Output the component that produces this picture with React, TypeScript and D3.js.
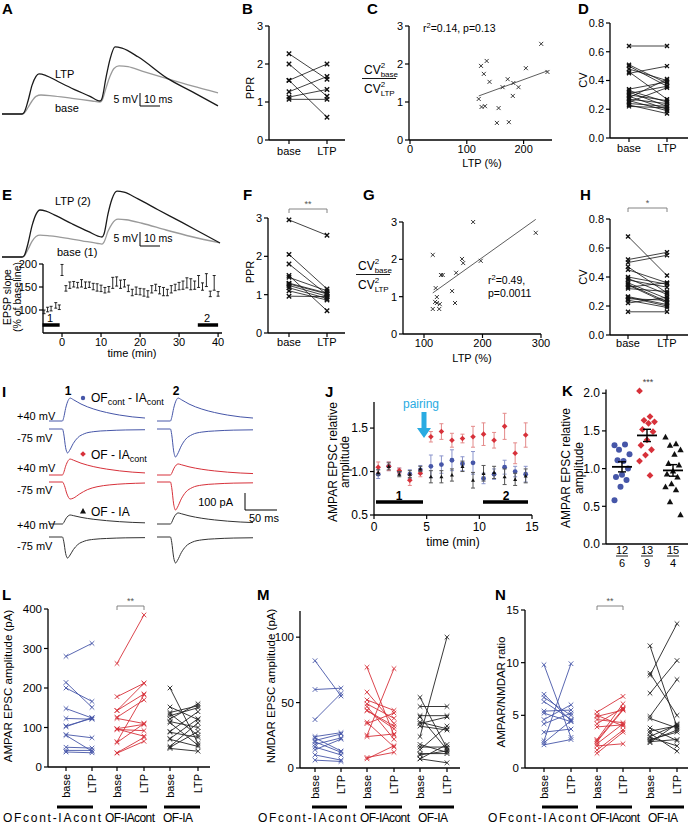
import React from 'react';
import * as d3 from 'd3';

// ================= DATA =================
const pairCats = ['base', 'LTP'];

// A: paired-pulse EPSP traces (ms, mV)
const traceA_LTP: [number, number][] = [[0,0],[10,0],[11,0.5],[13,5],[15,11],[17,14.5],[18.5,15.4],[22,14.8],[28,12.5],[36,9.5],[44,6.8],[49,5],[50,6],[52,14],[54,21],[56.5,25.8],[60,25.3],[68,22],[82.5,13.8],[95,8.6],[108,3.1]];
const traceA_base: [number, number][] = [[0,0],[10,0],[11,0.3],[13,2.5],[15,5],[17,6.8],[19.5,7.3],[25,7],[35,6],[45,5],[49,4.6],[50,5.2],[52,10],[54,14.5],[56,17.5],[58.5,18.5],[63,18.2],[70,16.5],[82.5,13.6],[95,10.8],[108,8.1]];
// B
const bBase = [2.27, 2.0, 1.57, 1.57, 1.27, 1.13, 1.07];
const bLTP = [1.6, 1.15, 2.0, 0.6, 1.67, 1.33, 1.07];
// C
const cX = [231,125,135,130,204,242,140,172,163,182,191,181,121,126,132,156,153,174];
const cY = [2.53,1.95,2.08,1.74,1.89,1.79,1.53,1.60,1.39,1.50,1.39,1.16,1.08,0.87,0.89,0.84,0.45,0.47];
const cFit = { x0: 121, x1: 242, intercept: 0.50, slope: 0.00545 };
// D
const dBase = [0.64,0.51,0.50,0.45,0.48,0.46,0.34,0.33,0.32,0.31,0.30,0.29,0.28,0.27,0.26,0.25,0.24,0.23,0.22];
const dLTP  = [0.64,0.38,0.36,0.50,0.40,0.27,0.39,0.25,0.22,0.36,0.26,0.20,0.41,0.24,0.19,0.35,0.22,0.17,0.21];
// E traces
const traceE_LTP: [number, number][] = [[0,0],[10,0],[11,0.4],[13,5],[15,11.5],[17,15.8],[19,17.4],[22,17],[27,15.3],[35,12.3],[43,9.5],[50,7.4],[51,8.5],[53,16],[55,21.5],[57.5,24.4],[61,24],[68,21.5],[78,17.5],[90,12.8],[100,8.8],[109,5.2]];
const traceE_base: [number, number][] = [[0,0],[10,0],[11,0.3],[13,2.8],[15,5.8],[17,7.6],[19,8.1],[24,7.8],[32,7],[40,6],[48,5],[50,4.8],[51,5.5],[53,9.5],[55,12.3],[58,14],[62,13.8],[70,12.5],[82,10],[95,7.5],[109,5.2]];
// E time course
const eTime = [-4.6,-3.7,-2.8,-1.6,-0.7,0,1,2,3,4,5,6,7,8,9,10,11,12,13,14,15,16,17,18,19,20,21,22,23,24,25,26,27,28,29,30,31,32,33,34,35,36,37,38,39,40];
const eMean = [96,101,103,110,106,187,147,154,156,154,158,154,155,151,149,147,143,145,159,162,156,158,147,138,142,140,138,135,145,149,143,140,138,145,149,152,154,159,156,154,162,151,165,135,159,135];
const eErr = [4,5,5,6,5,12,6,7,6,6,8,7,6,7,8,7,6,6,12,10,9,8,7,7,8,7,8,7,8,7,8,9,7,8,7,8,9,11,12,9,13,8,14,6,16,5];
const eTicksX = [0,10,20,30,40];
const eTicksY = [100,150,200];
// F
const fBase = [2.95,2.05,1.8,1.5,1.45,1.3,1.24,1.18,1.1,0.96,1.28];
const fLTP  = [2.55,1.15,1.0,0.58,1.1,1.04,0.96,0.9,0.86,0.95,1.02];
// G
const gX = [115,132,129,155,120,148,122,119,122,127,115,126,153,184,165,167,197,291];
const gY = [2.12,1.58,1.58,1.64,1.23,1.15,0.99,0.86,0.83,0.80,0.67,0.67,0.83,3.0,2.01,1.90,1.96,2.71];
const gFit = { x0: 115, x1: 291, y0: 1.10, y1: 3.07 };
// H
const hBase = [0.68,0.52,0.50,0.47,0.45,0.40,0.38,0.36,0.345,0.33,0.32,0.26,0.25,0.24,0.22,0.265,0.16,0.35,0.39];
const hLTP  = [0.41,0.57,0.55,0.29,0.36,0.35,0.33,0.25,0.22,0.36,0.30,0.20,0.24,0.19,0.26,0.21,0.16,0.23,0.28];
// I: EPSC templates (ms, normalised) and peak amplitudes (pA) [set1, set2]
const epscUp: [number, number][] = [[0,0],[21,0],[23,0.15],[26,0.55],[30,0.9],[33,1],[38,0.93],[50,0.74],[70,0.52],[90,0.37],[110,0.26],[130,0.18],[150,0.13]];
const epscDownFast: [number, number][] = [[0,0],[21,0],[23,0.2],[26,0.78],[29,1],[32,0.9],[38,0.6],[45,0.36],[55,0.2],[70,0.11],[90,0.07],[120,0.04],[150,0.03]];
const epscDownSlow: [number, number][] = [[0,0],[21,0],[24,0.2],[28,0.7],[33,1],[38,0.95],[48,0.7],[60,0.45],[75,0.28],[95,0.17],[120,0.1],[150,0.06]];
const iBluePos = [135, 135];
const iBlueNeg = [-141, -165];
const iRedPos = [94, 65];
const iRedNeg = [-100, -165];
const iBlackPos = [53, 65];
const iBlackNeg = [-124, -153];
// J
const jTime = [0.4,1.4,2.4,3.4,4.4,5.4,6.4,7.4,8.4,9.4,10.4,11.4,12.4,13.4,14.4];
const jRed = [1.05,1.06,1.01,0.90,0.98,1.40,1.46,1.36,1.38,1.40,1.43,1.36,1.52,1.21,1.42];
const jRedErr = [0.06,0.05,0.03,0.06,0.04,0.06,0.09,0.08,0.05,0.12,0.13,0.09,0.15,0.12,0.14];
const jBlue = [0.97,1.06,1.00,0.97,1.02,1.06,1.08,1.13,1.09,1.10,0.92,0.97,1.05,1.00,0.97];
const jBlueErr = [0.05,0.05,0.04,0.05,0.05,0.13,0.10,0.12,0.08,0.13,0.06,0.06,0.08,0.06,0.09];
const jBlack = [0.99,1.06,0.97,0.97,1.03,0.94,0.94,0.96,1.06,0.90,0.98,0.99,0.94,0.91,0.95];
const jBlackErr = [0.03,0.04,0.03,0.04,0.03,0.07,0.07,0.07,0.06,0.09,0.09,0.07,0.09,0.07,0.08];
const jTicksX = [0,5,10,15];
const jTicksY = [0.5,1.0,1.5];
// K
const kBlue = [1.31,1.32,1.25,1.19,1.10,1.11,1.0,0.92,0.89,0.85,0.76,0.58];
const kRed = [2.03,1.69,1.64,1.62,1.60,1.52,1.49,1.38,1.31,1.25,1.18,1.10,0.91];
const kBlack = [1.42,1.33,1.31,1.25,1.19,1.07,1.05,0.97,0.93,0.89,0.80,0.76,0.72,0.56,0.39];
const kN = [['12','6'],['13','9'],['15','4']];
// L
const lBlueBase = [280,214,200,148,123,104,102,82,80,50,42,38];
const lBlueLTP  = [313,151,166,124,121,123,125,74,40,48,42,36];
const lRedBase = [262,178,143,126,123,97,95,64,62,36,35,143,96];
const lRedLTP  = [385,212,185,170,110,108,92,183,110,75,65,212,78];
const lBlackBase = [200,152,138,135,130,122,115,112,90,88,72,70,52,50,47];
const lBlackLTP  = [60,120,155,80,150,160,100,55,140,75,122,52,112,90,40];
// M
const mBlueBase = [82,60,37,24,23,21,20,18,16,14,10,6];
const mBlueLTP  = [55,61,57,27,13,26,12,23,10,22,6,5];
const mRedBase = [77,58,52,49,47,44,25,34,35,24,8,7,44];
const mRedLTP  = [25,34,44,38,22,32,76,42,16,26,12,17,30];
const mBlackBase = [24,54,47,40,39,35,34,32,18,16,14,11,10,7,7];
const mBlackLTP  = [100,15,47,40,14,30,39,29,12,16,32,11,13,18,4];
// N
const nBlueBase = [9.8,7.0,6.7,6.3,5.4,5.2,4.6,4.2,3.4,2.6,2.4,2.2];
const nBlueLTP  = [2.9,4.5,5.0,4.6,5.5,4.4,6.0,5.2,3.7,9.9,4.5,2.7];
const nRedBase = [5.3,4.9,4.6,4.2,3.9,2.7,2.5,2.3,1.7,1.4,5.0,2.1,2.6];
const nRedLTP  = [6.8,5.5,4.3,5.7,4.1,6.1,5.5,4.2,3.6,3.4,4.0,2.3,5.6];
const nBlackBase = [11.6,9.0,8.8,7.1,4.9,4.7,3.8,3.5,3.3,3.0,2.9,2.6,2.5,2.4,2.7];
const nBlackLTP  = [3.9,5.0,13.7,10.2,8.4,3.8,2.6,4.0,1.6,4.1,2.1,3.6,2.7,4.2,3.4];
const groupNames = ['OFcont-IAcont', 'OF-IAcont', 'OF-IA'];

// ================= STYLE =================
const FONT = "'Liberation Sans', Arial, Helvetica, sans-serif";
const BLUE = '#4656a8';
const RED = '#d7313a';
const BLK = '#222';
const CYAN = '#29abe2';

// ================= HELPERS =================
const cross = (x: number, y: number, s: number) => `M${x - s},${y - s}L${x + s},${y + s}M${x - s},${y + s}L${x + s},${y - s}`;
const diamond = (x: number, y: number, s: number) => `M${x},${y - s}L${x + s},${y}L${x},${y + s}L${x - s},${y}Z`;
const tri = (x: number, y: number, s: number) => `M${x},${y - s}L${x + s},${y + s * 0.8}L${x - s},${y + s * 0.8}Z`;

function YAxis({ x, sc, ticks, fmt = (v: number) => String(v), fs = 11 }: any) {
  const [b, t] = sc.range();
  return (
    <g>
      <line x1={x} x2={x} y1={b} y2={t} stroke="#000" strokeWidth={1.3} />
      {ticks.map((v: number) => (
        <g key={v}>
          <line x1={x - 4} x2={x} y1={sc(v)} y2={sc(v)} stroke="#000" strokeWidth={1.2} />
          <text x={x - 6} y={sc(v)} dy="0.35em" textAnchor="end" fontSize={fs}>{fmt(v)}</text>
        </g>
      ))}
    </g>
  );
}

function XAxis({ y, x0, x1, ticks, labels, ly, fs = 11 }: any) {
  return (
    <g>
      <line x1={x0} x2={x1} y1={y} y2={y} stroke="#000" strokeWidth={1.3} />
      {ticks.map((tx: number, i: number) => (
        <g key={i}>
          <line x1={tx} x2={tx} y1={y} y2={y + 4} stroke="#000" strokeWidth={1.2} />
          {labels && <text x={tx} y={ly} textAnchor="middle" fontSize={fs}>{labels[i]}</text>}
        </g>
      ))}
    </g>
  );
}

function RotText({ x, y, children, fs = 11, fill = '#000' }: any) {
  return (
    <text transform={`translate(${x},${y}) rotate(-90)`} textAnchor="middle" dy="0.35em" fontSize={fs} fill={fill}>{children}</text>
  );
}

function PanelLabel({ x, y, t }: any) {
  return <text x={x} y={y} fontSize={15} fontWeight="bold">{t}</text>;
}

function Paired({ xb, xl, sc, base, ltp, color, size = 2.2, mw = 1.4, lw = 0.8 }: any) {
  return (
    <g>
      {base.map((b: number, i: number) => (
        <line key={'l' + i} x1={xb} y1={sc(b)} x2={xl} y2={sc(ltp[i])} stroke={color} strokeWidth={lw} />
      ))}
      {base.map((b: number, i: number) => (
        <path key={'b' + i} d={cross(xb, sc(b), size)} stroke={color} strokeWidth={mw} fill="none" />
      ))}
      {ltp.map((v: number, i: number) => (
        <path key={'p' + i} d={cross(xl, sc(v), size)} stroke={color} strokeWidth={mw} fill="none" />
      ))}
    </g>
  );
}

function Bracket({ x0, x1, y, t }: any) {
  return (
    <g stroke="#777" strokeWidth={0.9} fill="none">
      <path d={`M${x0},${y + 4}V${y}H${x1}V${y + 4}`} />
      <text x={(x0 + x1) / 2} y={y - 2} textAnchor="middle" fontSize={9} fill="#555" stroke="none">{t}</text>
    </g>
  );
}

function CVFrac({ x, y }: any) {
  // y = baseline of numerator "CV"
  return (
    <g>
      <text x={x} y={y} fontSize={12}>CV<tspan fontSize={8} dy={-6}>2</tspan><tspan fontSize={8} dx={-4.5} dy={8.5}>base</tspan></text>
      <line x1={x - 2} x2={x + 32} y1={y + 4.5} y2={y + 4.5} stroke="#000" strokeWidth={0.9} />
      <text x={x} y={y + 19} fontSize={12}>CV<tspan fontSize={8} dy={-6}>2</tspan><tspan fontSize={8} dx={-4.5} dy={8.5}>LTP</tspan></text>
    </g>
  );
}

function Trace({ data, sx, sy, color, w = 1.3 }: any) {
  const line = d3.line<[number, number]>().x(d => sx(d[0])).y(d => sy(d[1])).curve(d3.curveMonotoneX);
  return <path d={line(data) || ''} fill="none" stroke={color} strokeWidth={w} />;
}

// ================= PANELS =================
function PanelA() {
  const sx = d3.scaleLinear().domain([0, 10]).range([2, 22]);
  const sy = d3.scaleLinear().domain([0, 5]).range([114, 101]);
  return (
    <g>
      <PanelLabel x={2} y={14} t="A" />
      <Trace data={traceA_base} sx={sx} sy={sy} color="#9a9a9a" />
      <Trace data={traceA_LTP} sx={sx} sy={sy} color="#1a1a1a" />
      <text x={55} y={78} fontSize={11}>LTP</text>
      <text x={55} y={112} fontSize={11}>base</text>
      <text x={138} y={103} textAnchor="end" fontSize={10.5}>5 mV</text>
      <text x={144} y={103} fontSize={10.5}>10 ms</text>
      <path d={`M140,93V106H160`} stroke="#000" strokeWidth={1} fill="none" />
    </g>
  );
}

function PanelB() {
  const y = d3.scaleLinear().domain([0, 3]).range([140, 26]);
  const x = d3.scalePoint<string>().domain(pairCats).range([289, 327]);
  return (
    <g>
      <PanelLabel x={242} y={14} t="B" />
      <YAxis x={269} sc={y} ticks={[0, 1, 2, 3]} />
      <XAxis y={140} x0={269} x1={345} ticks={pairCats.map(c => x(c))} labels={pairCats} ly={155} />
      <RotText x={250} y={88}>PPR</RotText>
      <Paired xb={x('base')} xl={x('LTP')} sc={y} base={bBase} ltp={bLTP} color="#111" />
    </g>
  );
}

function PanelC() {
  const y = d3.scaleLinear().domain([0, 3]).range([140, 26]);
  const x = d3.scaleLinear().domain([0, 250]).range([410, 552]);
  return (
    <g>
      <PanelLabel x={367} y={14} t="C" />
      <YAxis x={409} sc={y} ticks={[0, 1, 2, 3]} />
      <XAxis y={140} x0={409} x1={552} ticks={[0, 100, 200].map(v => x(v))} labels={['0', '100', '200']} ly={153} />
      <text x={482} y={167} textAnchor="middle" fontSize={11}>LTP (%)</text>
      <CVFrac x={364} y={74} />
      <text x={423} y={32} fontSize={10.5}>r<tspan fontSize={7.5} dy={-4}>2</tspan><tspan dy={4}>=0.14, p=0.13</tspan></text>
      <line x1={x(cFit.x0)} x2={x(cFit.x1)} y1={y(cFit.intercept + cFit.slope * cFit.x0)} y2={y(cFit.intercept + cFit.slope * cFit.x1)} stroke="#333" strokeWidth={0.8} />
      {cX.map((v, i) => <path key={i} d={cross(x(v), y(cY[i]), 2)} stroke="#222" strokeWidth={0.9} fill="none" />)}
    </g>
  );
}

function PanelD() {
  const y = d3.scaleLinear().domain([0, 0.8]).range([138, 23]);
  const x = d3.scalePoint<string>().domain(pairCats).range([629, 667]);
  return (
    <g>
      <PanelLabel x={578} y={14} t="D" />
      <YAxis x={610} sc={y} ticks={[0, 0.2, 0.4, 0.6, 0.8]} fmt={(v: number) => v.toFixed(1)} />
      <XAxis y={138} x0={610} x1={688} ticks={pairCats.map(c => x(c))} labels={pairCats} ly={152} />
      <RotText x={583} y={80}>CV</RotText>
      <Paired xb={x('base')} xl={x('LTP')} sc={y} base={dBase} ltp={dLTP} color="#111" size={2} />
    </g>
  );
}

function PanelE() {
  const sx = d3.scaleLinear().domain([0, 10]).range([2, 22]);
  const sy = d3.scaleLinear().domain([0, 5]).range([257, 243.5]);
  const tx = d3.scaleLinear().domain([-5, 41]).range([42.5, 222]);
  const ty = d3.scaleLinear().domain([50, 200]).range([333, 264]);
  return (
    <g>
      <PanelLabel x={2} y={200} t="E" />
      <Trace data={traceE_base} sx={sx} sy={sy} color="#9a9a9a" />
      <Trace data={traceE_LTP} sx={sx} sy={sy} color="#1a1a1a" />
      <text x={55} y={205} fontSize={11}>LTP (2)</text>
      <text x={57} y={256} fontSize={11}>base (1)</text>
      <text x={138} y={242} textAnchor="end" fontSize={10.5}>5 mV</text>
      <text x={144} y={242} fontSize={10.5}>10 ms</text>
      <path d={`M140,232V246H160`} stroke="#000" strokeWidth={1} fill="none" />
      {/* time course */}
      <YAxis x={43} sc={ty} ticks={eTicksY} />
      <XAxis y={333} x0={43} x1={222} ticks={eTicksX.map(v => tx(v))} labels={eTicksX.map(String)} ly={346} />
      <text x={132} y={357} textAnchor="middle" fontSize={11}>time (min)</text>
      <RotText x={7} y={297} fs={10.5}>EPSP slope</RotText>
      <RotText x={17} y={297} fs={10.5}>(% of baseline)</RotText>
      {eTime.map((t, i) => {
        const cx = tx(t);
        const y0 = ty(eMean[i] - eErr[i]);
        const y1 = ty(eMean[i] + eErr[i]);
        return (
          <g key={i} stroke="#111" strokeWidth={0.9}>
            <line x1={cx} x2={cx} y1={y0} y2={y1} />
            <line x1={cx - 1.5} x2={cx + 1.5} y1={y0} y2={y0} />
            <line x1={cx - 1.5} x2={cx + 1.5} y1={y1} y2={y1} />
          </g>
        );
      })}
      <line x1={tx(-5)} x2={tx(-0.6)} y1={325} y2={325} stroke="#000" strokeWidth={3.5} />
      <text x={50} y={322} textAnchor="middle" fontSize={11}>1</text>
      <line x1={tx(34.8)} x2={tx(40)} y1={325} y2={325} stroke="#000" strokeWidth={3.5} />
      <text x={207} y={322} textAnchor="middle" fontSize={11}>2</text>
    </g>
  );
}

function PanelF() {
  const y = d3.scaleLinear().domain([0, 3]).range([333, 218]);
  const x = d3.scalePoint<string>().domain(pairCats).range([289, 327]);
  return (
    <g>
      <PanelLabel x={243} y={200} t="F" />
      <YAxis x={268} sc={y} ticks={[0, 1, 2, 3]} />
      <XAxis y={333} x0={268} x1={345} ticks={pairCats.map(c => x(c))} labels={pairCats} ly={346} />
      <RotText x={250} y={272}>PPR</RotText>
      <Bracket x0={x('base')} x1={x('LTP')} y={209} t="**" />
      <Paired xb={x('base')} xl={x('LTP')} sc={y} base={fBase} ltp={fLTP} color="#111" />
    </g>
  );
}

function PanelG() {
  const y = d3.scaleLinear().domain([0, 3]).range([334, 222]);
  const x = d3.scaleLinear().domain([100, 300]).range([424, 541]);
  return (
    <g>
      <PanelLabel x={363} y={200} t="G" />
      <YAxis x={403} sc={y} ticks={[0, 1, 2, 3]} />
      <XAxis y={334} x0={403} x1={541} ticks={[100, 200, 300].map(v => x(v))} labels={['100', '200', '300']} ly={347} />
      <text x={472} y={362} textAnchor="middle" fontSize={11}>LTP (%)</text>
      <CVFrac x={358} y={270} />
      <line x1={x(gFit.x0)} x2={x(gFit.x1)} y1={y(gFit.y0)} y2={y(gFit.y1)} stroke="#333" strokeWidth={0.8} />
      {gX.map((v, i) => <path key={i} d={cross(x(v), y(gY[i]), 2)} stroke="#222" strokeWidth={0.9} fill="none" />)}
      <text x={488} y={284} fontSize={10.5}>r<tspan fontSize={7.5} dy={-4}>2</tspan><tspan dy={4}>=0.49,</tspan></text>
      <text x={488} y={297} fontSize={10.5}>p=0.0011</text>
    </g>
  );
}

function PanelH() {
  const y = d3.scaleLinear().domain([0, 0.8]).range([335, 219]);
  const x = d3.scalePoint<string>().domain(pairCats).range([628, 667]);
  return (
    <g>
      <PanelLabel x={580} y={200} t="H" />
      <YAxis x={610} sc={y} ticks={[0, 0.2, 0.4, 0.6, 0.8]} fmt={(v: number) => v.toFixed(1)} />
      <XAxis y={335} x0={610} x1={688} ticks={pairCats.map(c => x(c))} labels={pairCats} ly={347} />
      <RotText x={583} y={277}>CV</RotText>
      <Bracket x0={x('base')} x1={x('LTP')} y={208} t="*" />
      <Paired xb={x('base')} xl={x('LTP')} sc={y} base={hBase} ltp={hLTP} color="#111" size={2} />
    </g>
  );
}

function PanelI() {
  const pa = 0.17; // px per pA
  const sets = [49, 157];
  const rows: { base: number; amps: number[]; tpl: [number, number][][]; color: string }[] = [
    { base: 421, amps: iBluePos, tpl: [epscUp, epscUp], color: BLUE },
    { base: 429, amps: iBlueNeg, tpl: [epscDownFast, epscDownFast], color: BLUE },
    { base: 475, amps: iRedPos, tpl: [epscUp, epscUp], color: RED },
    { base: 482, amps: iRedNeg, tpl: [epscDownSlow, epscDownFast], color: RED },
    { base: 524, amps: iBlackPos, tpl: [epscUp, epscUp], color: '#333' },
    { base: 537, amps: iBlackNeg, tpl: [epscDownFast, epscDownFast], color: '#333' },
  ];
  return (
    <g>
      <PanelLabel x={2} y={397} t="I" />
      <text x={68} y={395} textAnchor="middle" fontSize={12} fontWeight="bold">1</text>
      <text x={176} y={395} textAnchor="middle" fontSize={12} fontWeight="bold">2</text>
      {rows.map((r, ri) => sets.map((x0, si) => {
        const sx = d3.scaleLinear().domain([0, 150]).range([x0, x0 + 96]);
        const sy = d3.scaleLinear().domain([0, 100]).range([r.base, r.base - 100 * pa]);
        const data = r.tpl[si].map(d => [d[0], d[1] * r.amps[si]] as [number, number]);
        return <Trace key={ri + '-' + si} data={data} sx={sx} sy={sy} color={r.color} w={1} />;
      }))}
      {[[416, '+40 mV'], [438, '-75 mV'], [468, '+40 mV'], [490, '-75 mV'], [525, '+40 mV'], [546, '-75 mV']].map(([yy, t], i) => (
        <text key={i} x={17} y={(yy as number) + 4} fontSize={11}>{t}</text>
      ))}
      <circle cx={83} cy={398} r={2.2} fill={BLUE} />
      <text x={91} y={402} fontSize={12}>OF<tspan fontSize={9} dy={3}>cont</tspan><tspan dy={-3}> - IA</tspan><tspan fontSize={9} dy={3}>cont</tspan></text>
      <path d={diamond(83, 454, 2.8)} fill={RED} />
      <text x={91} y={459} fontSize={12}>OF - IA<tspan fontSize={9} dy={3}>cont</tspan></text>
      <path d={tri(83, 511, 3)} fill="#111" />
      <text x={91} y={516} fontSize={12}>OF - IA</text>
      <path d="M245,493V510H277" stroke="#000" strokeWidth={1} fill="none" />
      <text x={233} y={506} textAnchor="end" fontSize={11}>100 pA</text>
      <text x={249} y={522} fontSize={11}>50 ms</text>
    </g>
  );
}

function PanelJ() {
  const x = d3.scaleLinear().domain([0, 15]).range([374, 532]);
  const y = d3.scaleLinear().domain([0.5, 1.8]).range([515, 402]);
  const series = [
    { m: jBlue, e: jBlueErr, c: BLUE, ec: '#8b95cc', mk: 'c' },
    { m: jRed, e: jRedErr, c: RED, ec: '#e48a8a', mk: 'd' },
    { m: jBlack, e: jBlackErr, c: '#111', ec: '#555', mk: 't' },
  ];
  return (
    <g>
      <PanelLabel x={325} y={397} t="J" />
      <YAxis x={374} sc={y} ticks={jTicksY} fmt={(v: number) => v.toFixed(1)} fs={12} />
      <XAxis y={515} x0={374} x1={532} ticks={jTicksX.map(v => x(v))} labels={jTicksX.map(String)} ly={531} fs={12} />
      <text x={453} y={546} textAnchor="middle" fontSize={12}>time (min)</text>
      <RotText x={333} y={462} fs={12}>AMPAR EPSC relative</RotText>
      <RotText x={345} y={462} fs={12}>amplitude</RotText>
      {series.map((s, si) => (
        <g key={si}>
          {jTime.map((t, i) => {
            const cx = x(t);
            const y0 = y(s.m[i] - s.e[i]);
            const y1 = y(s.m[i] + s.e[i]);
            return (
              <g key={i} stroke={s.ec} strokeWidth={1}>
                <line x1={cx} x2={cx} y1={y0} y2={y1} />
                <line x1={cx - 2} x2={cx + 2} y1={y0} y2={y0} />
                <line x1={cx - 2} x2={cx + 2} y1={y1} y2={y1} />
              </g>
            );
          })}
          {jTime.map((t, i) => {
            const cx = x(t), cy = y(s.m[i]);
            if (s.mk === 'c') return <circle key={'m' + i} cx={cx} cy={cy} r={2.4} fill={s.c} />;
            if (s.mk === 'd') return <path key={'m' + i} d={diamond(cx, cy, 2.8)} fill={s.c} />;
            return <path key={'m' + i} d={tri(cx, cy, 2)} fill={s.c} />;
          })}
        </g>
      ))}
      <text x={421} y={408} textAnchor="middle" fontSize={12} fill={CYAN}>pairing</text>
      <path d="M421.5,412H426.5V428H431L424,438L417,428H421.5Z" fill={CYAN} />
      <line x1={376} x2={423} y1={502} y2={502} stroke="#000" strokeWidth={3.5} />
      <text x={399} y={500} textAnchor="middle" fontSize={12} fontWeight="bold">1</text>
      <line x1={483} x2={528} y1={502} y2={502} stroke="#000" strokeWidth={3.5} />
      <text x={506} y={500} textAnchor="middle" fontSize={12} fontWeight="bold">2</text>
    </g>
  );
}

function PanelK() {
  const y = d3.scaleLinear().domain([0, 2.05]).range([544, 544 - 2.05 * 75.4]);
  const centers = [622, 647, 673];
  const groups = [
    { v: kBlue, c: BLUE, mk: 'c' },
    { v: kRed, c: RED, mk: 'd' },
    { v: kBlack, c: '#111', mk: 't' },
  ];
  return (
    <g>
      <PanelLabel x={562} y={396} t="K" />
      <YAxis x={606} sc={y} ticks={[0, 0.5, 1.0, 1.5, 2.0]} fmt={(v: number) => v.toFixed(1)} fs={12} />
      <line x1={606} x2={688} y1={544} y2={544} stroke="#000" strokeWidth={1.3} />
      <RotText x={566} y={468} fs={12}>AMPAR EPSC relative</RotText>
      <RotText x={579} y={468} fs={12}>amplitude</RotText>
      {groups.map((g, gi) => {
        const cx = centers[gi];
        const mean = d3.mean(g.v) as number;
        const sem = (d3.deviation(g.v) as number) / Math.sqrt(g.v.length);
        return (
          <g key={gi}>
            {g.v.map((v, i) => {
              const px = cx + (((i * 7) % 11) - 5) * 1.5;
              const py = y(v);
              if (g.mk === 'c') return <circle key={i} cx={px} cy={py} r={3} fill={g.c} />;
              if (g.mk === 'd') return <path key={i} d={diamond(px, py, 3.4)} fill={g.c} />;
              return <path key={i} d={tri(px, py, 3.2)} fill={g.c} />;
            })}
            <line x1={cx - 10} x2={cx + 10} y1={y(mean)} y2={y(mean)} stroke="#000" strokeWidth={1.8} />
            <line x1={cx} x2={cx} y1={y(mean - sem)} y2={y(mean + sem)} stroke="#000" strokeWidth={1.4} />
            <line x1={cx - 4} x2={cx + 4} y1={y(mean - sem)} y2={y(mean - sem)} stroke="#000" strokeWidth={1.4} />
            <line x1={cx - 4} x2={cx + 4} y1={y(mean + sem)} y2={y(mean + sem)} stroke="#000" strokeWidth={1.4} />
            <text x={cx} y={554} textAnchor="middle" fontSize={11}>{kN[gi][0]}</text>
            <line x1={cx - 6} x2={cx + 6} y1={556} y2={556} stroke="#000" strokeWidth={0.9} />
            <text x={cx} y={567} textAnchor="middle" fontSize={11}>{kN[gi][1]}</text>
          </g>
        );
      })}
      <text x={648} y={385} textAnchor="middle" fontSize={9} fill="#444">***</text>
    </g>
  );
}

function GroupPanel({ label, lx, axisX, xEnd, sc, ticks, ylab, ylabX, ylabY, xs, bars, names, data, bracket }: any) {
  const colors = [BLUE, RED, BLK];
  const y0 = sc.range()[0];
  return (
    <g>
      <PanelLabel x={lx} y={600} t={label} />
      <YAxis x={axisX} sc={sc} ticks={ticks} fs={11.5} />
      <line x1={axisX} x2={xEnd} y1={y0} y2={y0} stroke="#000" strokeWidth={1.3} />
      <RotText x={ylabX} y={ylabY} fs={11.5}>{ylab}</RotText>
      {xs.map((pair: number[], gi: number) => (
        <g key={gi}>
          {pair.map((px: number, k: number) => (
            <g key={k}>
              <line x1={px} x2={px} y1={y0} y2={y0 + 4} stroke="#000" strokeWidth={1.2} />
              <text transform={`translate(${px},${y0 + 7}) rotate(-90)`} textAnchor="end" dy="0.35em" fontSize={11}>{pairCats[k]}</text>
            </g>
          ))}
          <Paired xb={pair[0]} xl={pair[1]} sc={sc} base={data[gi][0]} ltp={data[gi][1]} color={colors[gi]} size={2.3} mw={0.9} lw={0.9} />
          <line x1={bars[gi][0]} x2={bars[gi][1]} y1={807} y2={807} stroke="#000" strokeWidth={3} />
          <text x={names[gi][0]} y={822} fontSize={12} textLength={names[gi][1]} lengthAdjust="spacing">{groupNames[gi]}</text>
        </g>
      ))}
      {bracket && <Bracket x0={xs[1][0]} x1={xs[1][1]} y={606} t="**" />}
    </g>
  );
}

export default function App() {
  const yL = d3.scaleLinear().domain([0, 400]).range([767, 609]);
  const yM = d3.scaleLinear().domain([0, 120]).range([768, 611]);
  const yN = d3.scaleLinear().domain([0, 15]).range([768, 610]);
  return (
    <svg width={690} height={824} style={{ position: 'absolute', left: 0, top: 0, fontFamily: FONT }}>
      <rect width={690} height={824} fill="#fff" />
      <PanelA />
      <PanelB />
      <PanelC />
      <PanelD />
      <PanelE />
      <PanelF />
      <PanelG />
      <PanelH />
      <PanelI />
      <PanelJ />
      <PanelK />
      <GroupPanel label="L" lx={2} axisX={48} xEnd={210} sc={yL} ticks={[0, 100, 200, 300, 400]}
        ylab="AMPAR EPSC amplitude (pA)" ylabX={8} ylabY={686}
        xs={[[66, 92], [117, 144], [170, 198]]} bars={[[57, 93], [110, 147], [164, 200]]}
        names={[[3, 98], [105, 50], [163, 30]]}
        data={[[lBlueBase, lBlueLTP], [lRedBase, lRedLTP], [lBlackBase, lBlackLTP]]} bracket />
      <GroupPanel label="M" lx={257} axisX={300} xEnd={460} sc={yM} ticks={[0, 50, 100]}
        ylab="NMDAR EPSC amplitude (pA)" ylabX={271} ylabY={686}
        xs={[[315, 341], [367, 394], [420, 447]]} bars={[[312, 347], [365, 402], [419, 454]]}
        names={[[258, 98], [360, 50], [418, 30]]}
        data={[[mBlueBase, mBlueLTP], [mRedBase, mRedLTP], [mBlackBase, mBlackLTP]]} />
      <GroupPanel label="N" lx={495} axisX={525} xEnd={688} sc={yN} ticks={[0, 5, 10, 15]}
        ylab="AMPAR/NMDAR ratio" ylabX={501} ylabY={692}
        xs={[[544, 571], [597, 623], [650, 677]]} bars={[[542, 578], [596, 632], [650, 684]]}
        names={[[488, 98], [590, 50], [648, 30]]}
        data={[[nBlueBase, nBlueLTP], [nRedBase, nRedLTP], [nBlackBase, nBlackLTP]]} bracket />
    </svg>
  );
}
